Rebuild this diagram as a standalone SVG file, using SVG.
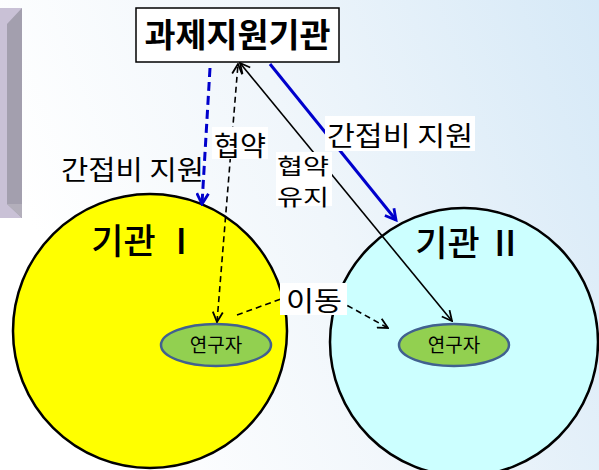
<svg xmlns="http://www.w3.org/2000/svg" width="599" height="470" viewBox="0 0 599 470">
<defs>
<linearGradient id="bg" x1="0" y1="0.3" x2="1" y2="0">
<stop offset="0" stop-color="#ffffff"/>
<stop offset="0.45" stop-color="#f0f6fb"/>
<stop offset="1" stop-color="#d6e9f7"/>
</linearGradient>
<marker id="ah" viewBox="0 0 12 12" refX="11" refY="6" markerWidth="12" markerHeight="12" markerUnits="userSpaceOnUse" orient="auto-start-reverse">
<path d="M1,1 L11,6 L1,11" fill="none" stroke="#000" stroke-width="1.8"/>
</marker>
<marker id="ahb" viewBox="0 0 12 12" refX="10" refY="6" markerWidth="14" markerHeight="14" markerUnits="userSpaceOnUse" orient="auto">
<path d="M1,1 L10,6 L1,11" fill="none" stroke="#0000cc" stroke-width="2.4"/>
</marker>
</defs>
<style>
.t{font-family:"Noto Sans CJK KR","Noto Sans",sans-serif;fill:#000}
.lbl{font-size:27px}
.lbs{font-size:22px}
.res{font-size:19px}
.big{font-size:35px}
.lb{fill:#ffffff}
.c{stroke:#000;stroke-width:1.6;fill:none}
</style>
<rect x="0" y="0" width="599" height="470" fill="url(#bg)"/>
<g id="sidebar">
<rect x="0" y="8" width="22" height="210" fill="#a39fae"/>
<polygon points="0,8 22,8 7,24 7,204 22,218 0,218" fill="#c9c1d6"/>
<polygon points="7,204 22,218 22,204" fill="#b3afbb"/>
</g>
<g id="inst1">
<circle cx="150" cy="331" r="137" fill="#ffff00" stroke="#000" stroke-width="2.5"/>
<text class="t big" x="145" y="254" text-anchor="middle" font-weight="500">기관 Ⅰ</text>
</g>
<g id="inst2">
<circle cx="464" cy="342" r="134" fill="#ccffff" stroke="#000" stroke-width="2.5"/>
<text class="t big" x="469" y="256" text-anchor="middle" font-weight="500">기관 Ⅱ</text>
</g>
<g id="res1">
<ellipse cx="216" cy="345" rx="55" ry="21" fill="#92d050" stroke="#41618f" stroke-width="2.5"/>
<text class="t res" x="216" y="352" text-anchor="middle">연구자</text>
</g>
<g id="res2">
<ellipse cx="454" cy="345" rx="55" ry="21" fill="#92d050" stroke="#41618f" stroke-width="2.5"/>
<text class="t res" x="454" y="352" text-anchor="middle">연구자</text>
</g>
<g id="agency">
<rect x="136" y="8" width="203" height="54" fill="#ffffff" stroke="#000" stroke-width="1.5"/>
<text class="t" x="237.5" y="47" text-anchor="middle" font-size="33" font-weight="bold" textLength="186" lengthAdjust="spacingAndGlyphs">과제지원기관</text>
</g>
<g id="connectors">
<line x1="210" y1="68" x2="202" y2="204" stroke="#0000cc" stroke-width="3" stroke-dasharray="9,5" marker-end="url(#ahb)"/>
<line x1="270" y1="64" x2="396" y2="220" stroke="#0000cc" stroke-width="3" marker-end="url(#ahb)"/>
<line x1="217" y1="322" x2="238" y2="64" class="c" stroke-dasharray="6,4" marker-start="url(#ah)" marker-end="url(#ah)"/>
<line x1="452" y1="321" x2="240" y2="63" class="c" marker-start="url(#ah)" marker-end="url(#ah)"/>
<polyline points="237,315 314,287 388,328" class="c" stroke-dasharray="6,4" marker-end="url(#ah)"/>
</g>
<g id="labels">
<rect x="212" y="127" width="56" height="32" class="lb"/>
<text class="t lbl" x="240" y="156" text-anchor="middle" textLength="52" lengthAdjust="spacingAndGlyphs">협약</text>
<rect x="276" y="152" width="56" height="54" class="lb"/>
<text class="t lbs" x="277" y="174" textLength="52" lengthAdjust="spacingAndGlyphs">협약</text>
<text class="t lbs" x="277" y="205" textLength="52" lengthAdjust="spacingAndGlyphs">유지</text>
<rect x="325" y="116" width="150" height="35" class="lb"/>
<text class="t lbl" x="327" y="146" textLength="146" lengthAdjust="spacingAndGlyphs">간접비 지원</text>
<text class="t lbl" x="61" y="180" textLength="143" lengthAdjust="spacingAndGlyphs">간접비 지원</text>
<rect x="280" y="283" width="67" height="32" class="lb"/>
<text class="t lbl" x="286" y="311" textLength="56" lengthAdjust="spacingAndGlyphs">이동</text>
</g>
</svg>
